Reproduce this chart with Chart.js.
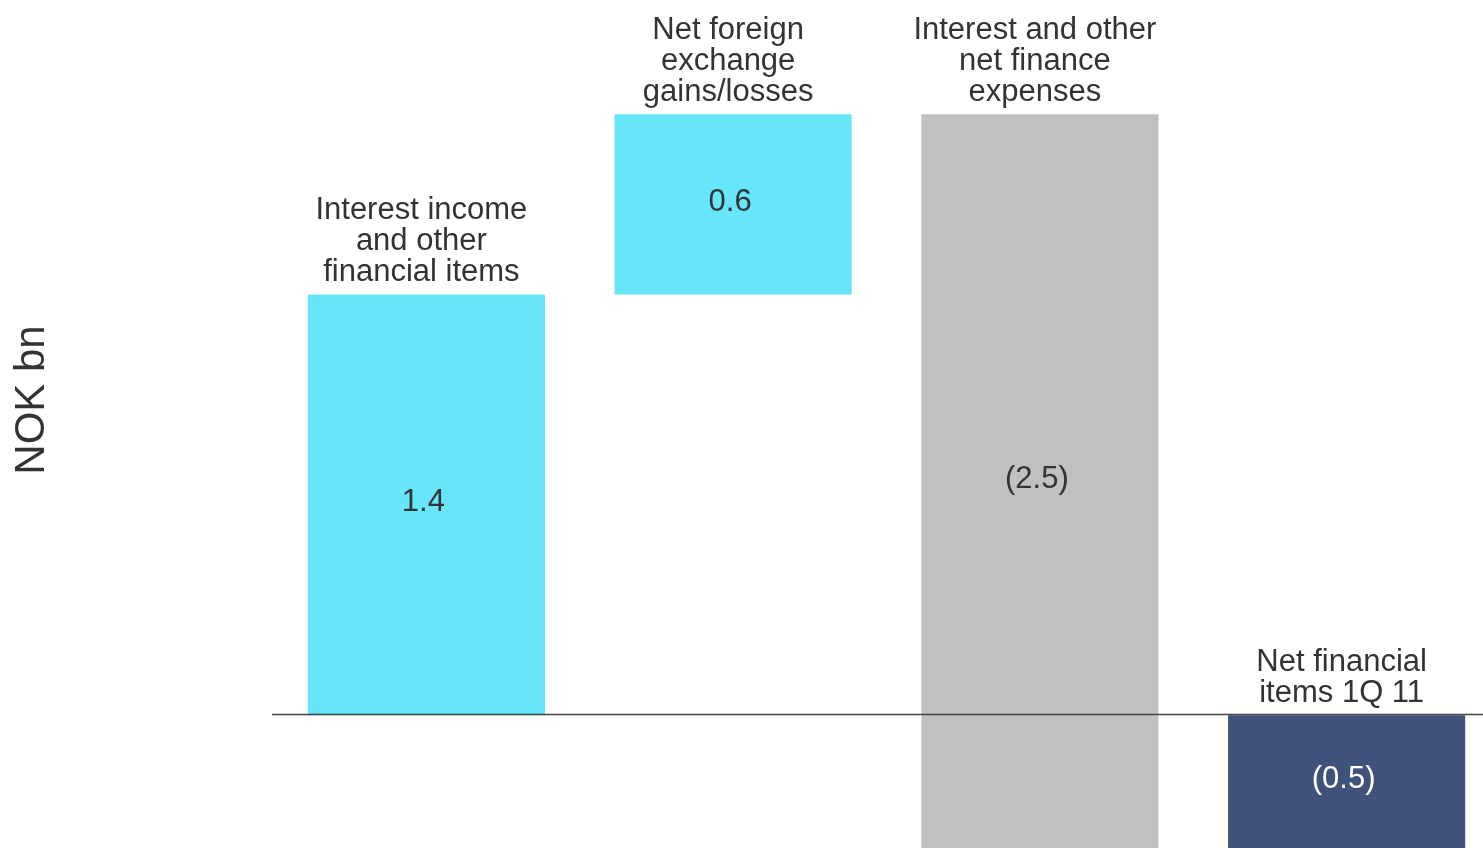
<!DOCTYPE html>
<html>
<head>
<meta charset="utf-8">
<script src="https://cdn.jsdelivr.net/npm/chart.js@4/dist/chart.umd.min.js"></script>
<style>
  html, body { margin: 0; padding: 0; background: #fff; overflow: hidden; }
  #wrap { width: 1500px; height: 848px; }
</style>
</head>
<body>
<div id="wrap"><canvas id="waterfall"></canvas></div>
<script>
const categories = [
    ["Interest income", "and other", "financial items"],
    ["Net foreign", "exchange", "gains/losses"],
    ["Interest and other", "net finance", "expenses"],
    ["Net financial", "items 1Q 11"]
];
const values = [1.4, 0.6, -2.5, -0.5];
const isTotal = [false, false, false, true];
const valueLabels = ["1.4", "0.6", "(2.5)", "(0.5)"];
const barColors = ["#67E6FA", "#67E6FA", "#C0C0C0", "#3F527A"];
const valueColors = ["#333333", "#333333", "#333333", "#FFFFFF"];

// floating bars for the waterfall
let running = 0;
const ranges = values.map((v, i) => {
    if (isTotal[i]) return [0, v];
    const start = running;
    running += v;
    return [start, running];
});

const FONT = "'Liberation Sans', Arial, sans-serif";

const labelPlugin = {
    id: 'labels',
    afterDatasetsDraw(chart) {
        const ctx = chart.ctx;
        const meta = chart.getDatasetMeta(0);
        const area = chart.chartArea;
        const y = chart.scales.y;
        ctx.save();
        ctx.font = "31px " + FONT;
        ctx.textAlign = 'center';
        ctx.textBaseline = 'middle';
        meta.data.forEach((bar, i) => {
            const top = Math.min(y.getPixelForValue(ranges[i][0]), y.getPixelForValue(ranges[i][1]));
            const bottom = Math.max(y.getPixelForValue(ranges[i][0]), y.getPixelForValue(ranges[i][1]));
            // category label above bar
            ctx.fillStyle = '#333333';
            const lines = categories[i];
            lines.forEach((ln, k) => {
                ctx.fillText(ln, bar.x - 5, top - 22 - (lines.length - 1 - k) * 31);
            });
            // value inside visible part
            const visBottom = Math.min(bottom, area.bottom);
            ctx.fillStyle = valueColors[i];
            ctx.fillText(valueLabels[i], bar.x - 3, (top + visBottom) / 2 - 2);
        });
        // zero line
        const y0 = Math.round(y.getPixelForValue(0)) - 0.5;
        ctx.strokeStyle = '#444444';
        ctx.lineWidth = 1.5;
        ctx.beginPath();
        ctx.moveTo(area.left - 1, y0);
        ctx.lineTo(area.right, y0);
        ctx.stroke();
        // axis title
        ctx.translate(32, 400);
        ctx.rotate(-Math.PI / 2);
        ctx.font = "42px " + FONT;
        ctx.fillStyle = '#333333';
        ctx.fillText("NOK bn", 0, 0);
        ctx.restore();
    }
};

new Chart(document.getElementById('waterfall'), {
    type: 'bar',
    data: {
        labels: categories.map(c => c.join(' ')),
        datasets: [{
            data: ranges,
            backgroundColor: barColors,
            borderWidth: 0,
            categoryPercentage: 1,
            barPercentage: 0.773
        }]
    },
    options: {
        responsive: true,
        maintainAspectRatio: false,
        animation: false,
        layout: { padding: { left: 273, top: 0, right: 0, bottom: 0 } },
        plugins: { legend: { display: false }, tooltip: { enabled: false } },
        scales: {
            x: { display: false },
            y: { display: false, min: -0.442, max: 2.38 }
        }
    },
    plugins: [labelPlugin]
});
</script>
</body>
</html>
